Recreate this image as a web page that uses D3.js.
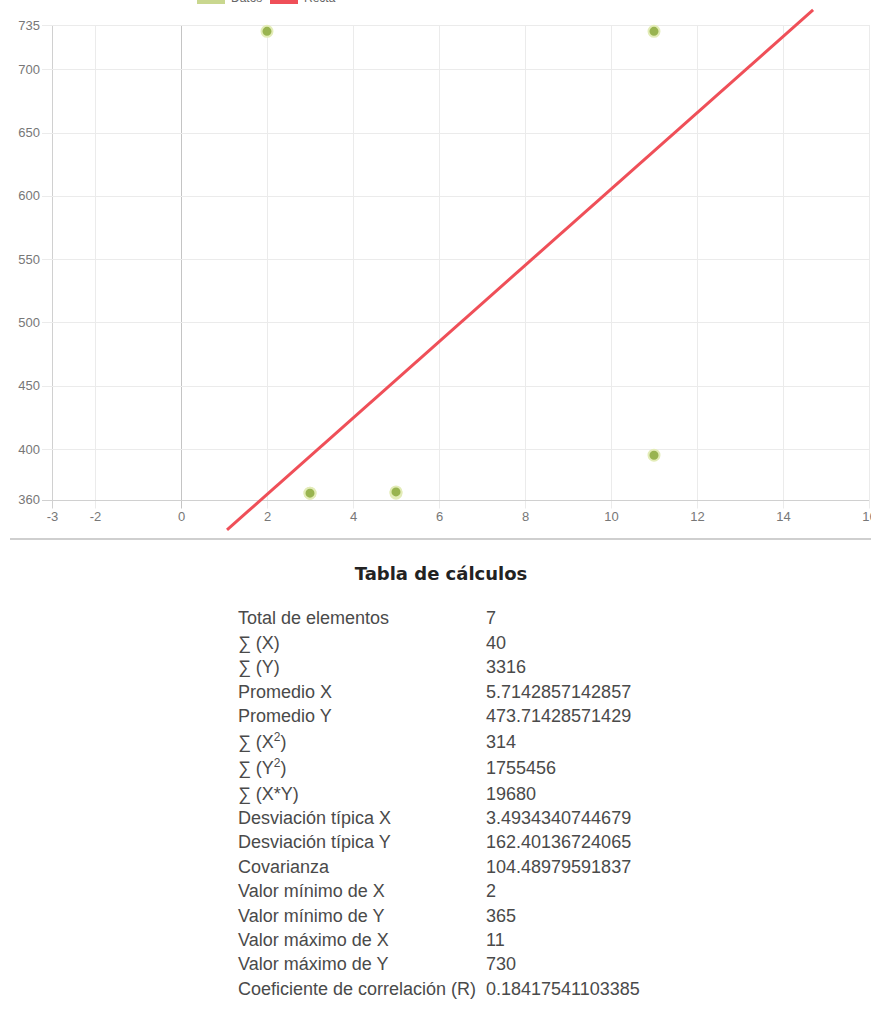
<!DOCTYPE html>
<html>
<head>
<meta charset="utf-8">
<script src="https://cdn.jsdelivr.net/npm/d3@7"></script>
<style>
  body { margin: 0; background: #fff; }
  svg { display: block; font-family: "Liberation Sans", Arial, sans-serif; }
</style>
</head>
<body>
<svg id="chart" width="871" height="1023"></svg>
<script>
// scatter points (X, Y)
const pointsX = [2, 11, 3, 5, 11, 3, 5];
const pointsY = [730, 730, 365, 365, 395, 365, 366];

// red line end points
const lineX = [1.07, 14.7];
const lineY = [336, 747];

const xTicks = [-3, -2, 0, 2, 4, 6, 8, 10, 12, 14, 16];
const yTicks = [360, 400, 450, 500, 550, 600, 650, 700, 735];
const legendNames = ["Datos", "Recta"];

const tableTitle = "Tabla de cálculos";
const statLabels = [
    "Total de elementos",
    "∑ (X)",
    "∑ (Y)",
    "Promedio X",
    "Promedio Y",
    "∑ (X^2)",
    "∑ (Y^2)",
    "∑ (X*Y)",
    "Desviación típica X",
    "Desviación típica Y",
    "Covarianza",
    "Valor mínimo de X",
    "Valor mínimo de Y",
    "Valor máximo de X",
    "Valor máximo de Y",
    "Coeficiente de correlación (R)"
];
const statValues = [
    "7", "40", "3316", "5.7142857142857", "473.71428571429", "314", "1755456",
    "19680", "3.4934340744679", "162.40136724065", "104.48979591837",
    "2", "365", "11", "730", "0.18417541103385"
];

const svg = d3.select('#chart');

const x = d3.scaleLinear().domain([-3, 16]).range([52, 869]);
const y = d3.scaleLinear().domain([360, 735]).range([499.5, 25]);

//grid - vertical
svg.append('g')
    .selectAll('line')
    .data(xTicks)
    .enter()
    .append('line')
    .attr('x1', d => Math.round(x(d)) + 0.5)
    .attr('x2', d => Math.round(x(d)) + 0.5)
    .attr('y1', y(735))
    .attr('y2', y(360) + 9)
    .attr('stroke', d => d === 0 ? '#c4c4c4' : (d === -3 ? '#d0d0d0' : '#ebebeb'))
    .attr('stroke-width', 1);

//grid - horizontal
svg.append('g')
    .selectAll('line')
    .data(yTicks)
    .enter()
    .append('line')
    .attr('x1', x(-3) - 10)
    .attr('x2', x(16))
    .attr('y1', d => Math.round(y(d)) + 0.5)
    .attr('y2', d => Math.round(y(d)) + 0.5)
    .attr('stroke', d => d === 360 ? '#d0d0d0' : '#ebebeb')
    .attr('stroke-width', 1);

//y axis labels
const yAxisGroup = svg.append('g')
    .attr('transform', `translate(${x(-3)},0)`)
    .call(d3.axisLeft(y).tickValues(yTicks).tickSize(0).tickPadding(12).tickFormat(d => String(d)));
yAxisGroup.select('.domain').remove();
yAxisGroup.selectAll('text')
    .style('font-size', '13px')
    .style('font-family', '"Liberation Sans", Arial, sans-serif')
    .attr('fill', '#777');

//x axis labels
const xAxisGroup = svg.append('g')
    .attr('transform', `translate(0,${y(360)})`)
    .call(d3.axisBottom(x).tickValues(xTicks).tickSize(0).tickPadding(12).tickFormat(d => String(d)));
xAxisGroup.select('.domain').remove();
xAxisGroup.selectAll('text')
    .style('font-size', '13px')
    .style('font-family', '"Liberation Sans", Arial, sans-serif')
    .attr('fill', '#777');

//red line
const lineData = lineX.map((d, i) => [d, lineY[i]]);
svg.append('path')
    .datum(lineData)
    .attr('d', d3.line().x(d => x(d[0])).y(d => y(d[1])))
    .attr('fill', 'none')
    .attr('stroke', '#ef4f58')
    .attr('stroke-width', 3);

//points
svg.append('g')
    .selectAll('circle')
    .data(pointsX.map((d, i) => [d, pointsY[i]]))
    .enter()
    .append('circle')
    .attr('cx', d => x(d[0]))
    .attr('cy', d => y(d[1]))
    .attr('r', 5.5)
    .attr('fill', '#99b450')
    .attr('stroke', '#e3ecb8')
    .attr('stroke-width', 2);

//legend (mostly cut off at top)
const legendColors = ['#c9d78f', '#ef4f58'];
const legendX = [197, 270];
const legend = svg.append('g');
legend.selectAll('rect')
    .data(legendNames)
    .enter()
    .append('rect')
    .attr('x', (d, i) => legendX[i])
    .attr('y', -8)
    .attr('width', 28)
    .attr('height', 12)
    .attr('fill', (d, i) => legendColors[i]);
legend.selectAll('text')
    .data(legendNames)
    .enter()
    .append('text')
    .attr('x', (d, i) => legendX[i] + 34)
    .attr('y', 2)
    .style('font-size', '12px')
    .attr('fill', '#666')
    .text(d => d);

//separator
svg.append('line')
    .attr('x1', 10)
    .attr('x2', 871)
    .attr('y1', 539)
    .attr('y2', 539)
    .attr('stroke', '#cfcfcf')
    .attr('stroke-width', 2);

//table title
svg.append('text')
    .attr('x', 441)
    .attr('y', 580)
    .attr('text-anchor', 'middle')
    .style('font-family', '"DejaVu Sans", Verdana, sans-serif')
    .style('font-weight', 'bold')
    .style('font-size', '18px')
    .attr('fill', '#222')
    .text(tableTitle);

//table rows
const rowY = [];
let cy = 618;
statLabels.forEach((d, i) => {
    rowY.push(cy);
    cy += 24.4 + (d.includes('^') || (statLabels[i + 1] || '').includes('^') ? 1.5 : 0);
});

const rows = svg.append('g')
    .selectAll('g')
    .data(statLabels)
    .enter()
    .append('g')
    .attr('transform', (d, i) => `translate(0,${rowY[i]})`)
    .style('font-size', '18px')
    .attr('fill', '#4a4a4a');

rows.each(function(d) {
    const t = d3.select(this).append('text')
        .attr('x', 238)
        .attr('dy', '0.35em');
    const parts = d.split('^');
    if (parts.length === 1) {
        t.text(d);
    } else {
        t.append('tspan').text(parts[0]);
        t.append('tspan').attr('dy', -7).style('font-size', '12px').text(parts[1].charAt(0));
        t.append('tspan').attr('dy', 7).text(parts[1].slice(1));
    }
});

rows.append('text')
    .attr('x', 486)
    .attr('dy', '0.35em')
    .text((d, i) => statValues[i]);
</script>
</body>
</html>
